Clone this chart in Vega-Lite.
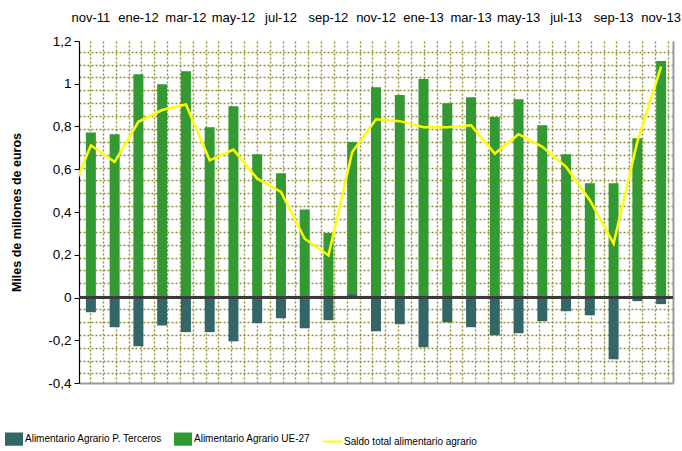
{
  "$schema": "https://vega.github.io/schema/vega-lite/v6.json",
  "autosize": "none",
  "padding": {"left": 79, "top": 41, "right": 9, "bottom": 68},
  "width": 594,
  "height": 342,
  "config": {
    "font": "'Liberation Sans', Arial, sans-serif",
    "view": {"stroke": null},
    "background": "#ffffff"
  },
  "datasets": {
    "serie": [
      {"mes": "nov-11", "serie": "Alimentario Agrario P. Terceros", "valor": -0.069},
      {"mes": "dic-11", "serie": "Alimentario Agrario P. Terceros", "valor": -0.139},
      {"mes": "ene-12", "serie": "Alimentario Agrario P. Terceros", "valor": -0.228},
      {"mes": "feb-12", "serie": "Alimentario Agrario P. Terceros", "valor": -0.131},
      {"mes": "mar-12", "serie": "Alimentario Agrario P. Terceros", "valor": -0.162},
      {"mes": "abr-12", "serie": "Alimentario Agrario P. Terceros", "valor": -0.162},
      {"mes": "may-12", "serie": "Alimentario Agrario P. Terceros", "valor": -0.205},
      {"mes": "jun-12", "serie": "Alimentario Agrario P. Terceros", "valor": -0.120},
      {"mes": "jul-12", "serie": "Alimentario Agrario P. Terceros", "valor": -0.097},
      {"mes": "ago-12", "serie": "Alimentario Agrario P. Terceros", "valor": -0.144},
      {"mes": "sep-12", "serie": "Alimentario Agrario P. Terceros", "valor": -0.106},
      {"mes": "oct-12", "serie": "Alimentario Agrario P. Terceros", "valor": 0.020},
      {"mes": "nov-12", "serie": "Alimentario Agrario P. Terceros", "valor": -0.158},
      {"mes": "dic-12", "serie": "Alimentario Agrario P. Terceros", "valor": -0.125},
      {"mes": "ene-13", "serie": "Alimentario Agrario P. Terceros", "valor": -0.233},
      {"mes": "feb-13", "serie": "Alimentario Agrario P. Terceros", "valor": -0.116},
      {"mes": "mar-13", "serie": "Alimentario Agrario P. Terceros", "valor": -0.139},
      {"mes": "abr-13", "serie": "Alimentario Agrario P. Terceros", "valor": -0.177},
      {"mes": "may-13", "serie": "Alimentario Agrario P. Terceros", "valor": -0.167},
      {"mes": "jun-13", "serie": "Alimentario Agrario P. Terceros", "valor": -0.111},
      {"mes": "jul-13", "serie": "Alimentario Agrario P. Terceros", "valor": -0.064},
      {"mes": "ago-13", "serie": "Alimentario Agrario P. Terceros", "valor": -0.083},
      {"mes": "sep-13", "serie": "Alimentario Agrario P. Terceros", "valor": -0.289},
      {"mes": "oct-13", "serie": "Alimentario Agrario P. Terceros", "valor": -0.017},
      {"mes": "nov-13", "serie": "Alimentario Agrario P. Terceros", "valor": -0.031},
      {"mes": "nov-11", "serie": "Alimentario Agrario UE-27", "valor": 0.772},
      {"mes": "dic-11", "serie": "Alimentario Agrario UE-27", "valor": 0.764},
      {"mes": "ene-12", "serie": "Alimentario Agrario UE-27", "valor": 1.045},
      {"mes": "feb-12", "serie": "Alimentario Agrario UE-27", "valor": 0.998},
      {"mes": "mar-12", "serie": "Alimentario Agrario UE-27", "valor": 1.059},
      {"mes": "abr-12", "serie": "Alimentario Agrario UE-27", "valor": 0.797},
      {"mes": "may-12", "serie": "Alimentario Agrario UE-27", "valor": 0.895},
      {"mes": "jun-12", "serie": "Alimentario Agrario UE-27", "valor": 0.670},
      {"mes": "jul-12", "serie": "Alimentario Agrario UE-27", "valor": 0.581},
      {"mes": "ago-12", "serie": "Alimentario Agrario UE-27", "valor": 0.412},
      {"mes": "sep-12", "serie": "Alimentario Agrario UE-27", "valor": 0.302},
      {"mes": "oct-12", "serie": "Alimentario Agrario UE-27", "valor": 0.708},
      {"mes": "nov-12", "serie": "Alimentario Agrario UE-27", "valor": 0.984},
      {"mes": "dic-12", "serie": "Alimentario Agrario UE-27", "valor": 0.947},
      {"mes": "ene-13", "serie": "Alimentario Agrario UE-27", "valor": 1.022},
      {"mes": "feb-13", "serie": "Alimentario Agrario UE-27", "valor": 0.909},
      {"mes": "mar-13", "serie": "Alimentario Agrario UE-27", "valor": 0.937},
      {"mes": "abr-13", "serie": "Alimentario Agrario UE-27", "valor": 0.844},
      {"mes": "may-13", "serie": "Alimentario Agrario UE-27", "valor": 0.928},
      {"mes": "jun-13", "serie": "Alimentario Agrario UE-27", "valor": 0.806},
      {"mes": "jul-13", "serie": "Alimentario Agrario UE-27", "valor": 0.670},
      {"mes": "ago-13", "serie": "Alimentario Agrario UE-27", "valor": 0.534},
      {"mes": "sep-13", "serie": "Alimentario Agrario UE-27", "valor": 0.534},
      {"mes": "oct-13", "serie": "Alimentario Agrario UE-27", "valor": 0.745},
      {"mes": "nov-13", "serie": "Alimentario Agrario UE-27", "valor": 1.106},
      {"mes": "oct-11", "serie": "Saldo total alimentario agrario", "valor": 0.44},
      {"mes": "nov-11", "serie": "Saldo total alimentario agrario", "valor": 0.712},
      {"mes": "dic-11", "serie": "Saldo total alimentario agrario", "valor": 0.634},
      {"mes": "ene-12", "serie": "Saldo total alimentario agrario", "valor": 0.822},
      {"mes": "feb-12", "serie": "Saldo total alimentario agrario", "valor": 0.877},
      {"mes": "mar-12", "serie": "Saldo total alimentario agrario", "valor": 0.903},
      {"mes": "abr-12", "serie": "Saldo total alimentario agrario", "valor": 0.642},
      {"mes": "may-12", "serie": "Saldo total alimentario agrario", "valor": 0.692},
      {"mes": "jun-12", "serie": "Saldo total alimentario agrario", "valor": 0.556},
      {"mes": "jul-12", "serie": "Saldo total alimentario agrario", "valor": 0.494},
      {"mes": "ago-12", "serie": "Saldo total alimentario agrario", "valor": 0.275},
      {"mes": "sep-12", "serie": "Saldo total alimentario agrario", "valor": 0.197},
      {"mes": "oct-12", "serie": "Saldo total alimentario agrario", "valor": 0.681},
      {"mes": "nov-12", "serie": "Saldo total alimentario agrario", "valor": 0.834},
      {"mes": "dic-12", "serie": "Saldo total alimentario agrario", "valor": 0.825},
      {"mes": "ene-13", "serie": "Saldo total alimentario agrario", "valor": 0.797},
      {"mes": "feb-13", "serie": "Saldo total alimentario agrario", "valor": 0.797},
      {"mes": "mar-13", "serie": "Saldo total alimentario agrario", "valor": 0.806},
      {"mes": "abr-13", "serie": "Saldo total alimentario agrario", "valor": 0.673},
      {"mes": "may-13", "serie": "Saldo total alimentario agrario", "valor": 0.764},
      {"mes": "jun-13", "serie": "Saldo total alimentario agrario", "valor": 0.705},
      {"mes": "jul-13", "serie": "Saldo total alimentario agrario", "valor": 0.611},
      {"mes": "ago-13", "serie": "Saldo total alimentario agrario", "valor": 0.455},
      {"mes": "sep-13", "serie": "Saldo total alimentario agrario", "valor": 0.252},
      {"mes": "oct-13", "serie": "Saldo total alimentario agrario", "valor": 0.73},
      {"mes": "nov-13", "serie": "Saldo total alimentario agrario", "valor": 1.08}
    ]
  },
  "resolve": {"scale": {"x": "independent", "y": "independent"}, "axis": {"x": "independent", "y": "independent"}},
  "layer": [
    {
      "data": {"values": [{}]},
      "mark": {"type": "point", "opacity": 0},
      "encoding": {
        "x": {
          "datum": 0, "type": "quantitative",
          "scale": {"domain": [0, 25], "nice": false, "zero": false},
          "axis": {
            "orient": "bottom", "title": null, "labels": false, "ticks": false,
            "domain": true, "domainColor": "#9a9a9a", "domainWidth": 2,
            "grid": true, "gridColor": "#8f8f30", "gridDash": [2, 2], "gridWidth": 1.4,
            "values": [0.463, 1.003, 1.544, 2.084, 2.625, 3.165, 3.705, 4.246, 4.786, 5.327, 5.867, 6.407, 6.948, 7.488, 8.029, 8.569, 9.109, 9.65, 10.19, 10.731, 11.271, 11.811, 12.352, 12.892, 13.433, 13.973, 14.513, 15.054, 15.594, 16.135, 16.675, 17.215, 17.756, 18.296, 18.837, 19.377, 19.917, 20.458, 20.998, 21.539, 22.079, 22.619, 23.16, 23.7, 24.241, 24.781]
          }
        },
        "y": {
          "datum": 0, "type": "quantitative",
          "scale": {"domain": [-0.4, 1.2], "nice": false, "zero": false},
          "axis": {
            "orient": "right", "title": null, "labels": false, "ticks": false,
            "domain": true, "domainColor": "#9a9a9a", "domainWidth": 2,
            "grid": true, "gridColor": "#8f8f30", "gridDash": [2, 2], "gridWidth": 1.4,
            "values": [-0.3552, -0.295, -0.2348, -0.1746, -0.1144, -0.0542, 0.006, 0.0662, 0.1264, 0.1866, 0.2468, 0.307, 0.3672, 0.4274, 0.4876, 0.5478, 0.608, 0.6682, 0.7284, 0.7886, 0.8488, 0.909, 0.9692, 1.0294, 1.0896, 1.1498]
          }
        }
      }
    },
    {
      "data": {"name": "serie"},
      "encoding": {
        "x": {
          "field": "mes", "type": "nominal",
          "scale": {
            "domain": ["oct-11", "nov-11", "dic-11", "ene-12", "feb-12", "mar-12", "abr-12", "may-12", "jun-12", "jul-12", "ago-12", "sep-12", "oct-12", "nov-12", "dic-12", "ene-13", "feb-13", "mar-13", "abr-13", "may-13", "jun-13", "jul-13", "ago-13", "sep-13", "oct-13", "nov-13"],
            "range": [-23.76, 594], "paddingInner": 0, "paddingOuter": 0
          },
          "axis": {
            "orient": "top", "title": null, "domain": false, "ticks": false, "grid": false,
            "labelAngle": 0, "labelPadding": 17, "labelFontSize": 13, "labelColor": "#000000",
            "values": ["nov-11", "ene-12", "mar-12", "may-12", "jul-12", "sep-12", "nov-12", "ene-13", "mar-13", "may-13", "jul-13", "sep-13", "nov-13"]
          }
        },
        "y": {
          "field": "valor", "type": "quantitative",
          "scale": {"domain": [-0.4, 1.2], "nice": false, "zero": false},
          "axis": {
            "orient": "left", "title": "Miles de millones de euros",
            "titleFontSize": 12.5, "titleFontWeight": "bold", "titleColor": "#000000", "titlePadding": 24,
            "values": [-0.4, -0.2, 0, 0.2, 0.4, 0.6, 0.8, 1, 1.2],
            "format": ".1~f",
            "labelExpr": "replace(replace(datum.label, '.', ','), '\u2212', '-')",
            "labelFontSize": 13.5, "labelColor": "#000000", "labelPadding": 3,
            "domain": true, "domainColor": "#000000", "domainWidth": 1.2,
            "ticks": true, "tickColor": "#000000", "tickSize": 5, "tickWidth": 1,
            "grid": false
          }
        },
        "color": {
          "field": "serie", "type": "nominal",
          "scale": {
            "domain": ["Alimentario Agrario P. Terceros", "Alimentario Agrario UE-27", "Saldo total alimentario agrario"],
            "range": ["#336666", "#339933", "#FFFF00"]
          },
          "legend": {
            "orient": "none", "legendX": -74, "legendY": 389, "direction": "horizontal", "title": null,
            "labelFontSize": 10, "labelColor": "#000000", "labelOffset": 2, "columnPadding": 8, "labelLimit": 0,
            "symbolSize": 256,
            "encode": {
              "symbols": {
                "update": {
                  "shape": {"signal": "datum.value === 'Saldo total alimentario agrario' ? 'M-1.25,0H1.25' : 'M-1,-0.7H1V0.7H-1Z'"},
                  "fill": {"signal": "datum.value === 'Saldo total alimentario agrario' ? 'transparent' : (datum.value === 'Alimentario Agrario UE-27' ? '#339933' : '#336666')"},
                  "stroke": {"signal": "datum.value === 'Saldo total alimentario agrario' ? '#FFFF00' : 'transparent'"},
                  "strokeWidth": {"value": 2},
                  "opacity": {"value": 1}
                }
              }
            }
          }
        }
      },
      "layer": [
        {
          "transform": [{"filter": "datum.serie !== 'Saldo total alimentario agrario'"}],
          "mark": {"type": "bar", "size": 10},
          "encoding": {"order": {"field": "serie", "sort": "ascending"}}
        },
        {
          "mark": {"type": "rule", "color": "#3a3a3a", "strokeWidth": 2},
          "encoding": {"y": {"datum": 0}, "x": null, "color": {"value": "#3a3a3a"}}
        },
        {
          "transform": [{"filter": "datum.serie === 'Saldo total alimentario agrario'"}],
          "mark": {"type": "line", "strokeWidth": 2.5, "clip": true}
        }
      ]
    }
  ]
}
